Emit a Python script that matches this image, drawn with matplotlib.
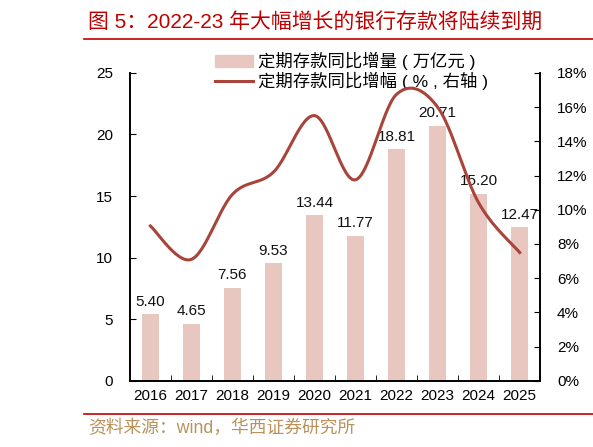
import numpy as np
import matplotlib.pyplot as plt
from matplotlib.lines import Line2D

plt.rcParams['font.family'] = ['Liberation Sans', 'Noto Sans CJK SC']

years = ["2016", "2017", "2018", "2019", "2020", "2021", "2022", "2023", "2024", "2025"]
increase = [5.40, 4.65, 7.56, 9.53, 13.44, 11.77, 18.81, 20.71, 15.20, 12.47]
growth = [9.05, 7.1, 10.9, 12.2, 15.5, 11.75, 16.75, 16.0, 10.4, 7.5]

bar_color = "#E8C7C1"
line_color = "#A8443A"


def smooth(xs, ys, n=30):
    """catmull-rom curve through the points, like excel smoothing"""
    px = [xs[0]] + list(xs) + [xs[-1]]
    py = [ys[0]] + list(ys) + [ys[-1]]
    out_x, out_y = [], []
    for i in range(1, len(px) - 2):
        t = np.linspace(0, 1, n)
        for p, out in ((px, out_x), (py, out_y)):
            p0, p1, p2, p3 = p[i - 1], p[i], p[i + 1], p[i + 2]
            v = 0.5 * ((2 * p1) + (-p0 + p2) * t + (2 * p0 - 5 * p1 + 4 * p2 - p3) * t ** 2
                       + (-p0 + 3 * p1 - 3 * p2 + p3) * t ** 3)
            out.extend(v)
    return out_x, out_y


fig = plt.figure(figsize=(5.93, 4.47), dpi=100)
ax = fig.add_axes([0.219, 0.148, 0.692, 0.689])
ax2 = ax.twinx()

x = np.arange(len(years))
bars = ax.bar(x, increase, width=0.4, color=bar_color, zorder=2)
for xi, v in zip(x, increase):
    ax.annotate(f"{v:.2f}", (xi, v), xytext=(0, 4), textcoords="offset points",
                ha="center", va="bottom", fontsize=11, color="#111111")

sx, sy = smooth(x, growth)
ax2.plot(sx, sy, color=line_color, lw=2.2, zorder=3)

ax.set_xlim(-0.5, 9.5)
ax.set_ylim(0, 25)
ax2.set_ylim(0, 18)
ax.set_yticks(range(0, 26, 5))
ax2.set_yticks(range(0, 19, 2))
ax2.set_yticklabels([f"{v}%" for v in range(0, 19, 2)])
ax.set_xticks(x)
ax.set_xticklabels(years)
ax.set_xticks(np.arange(-0.5, 10, 1), minor=True)
ax.tick_params(axis="x", which="major", length=0, labelsize=11, pad=6)
ax.tick_params(axis="x", which="minor", direction="in", length=4)
ax.tick_params(axis="y", direction="in", length=4, labelsize=11, pad=12)
ax2.tick_params(axis="y", direction="in", length=4, labelsize=11, pad=12)

for a in (ax, ax2):
    a.spines["top"].set_visible(False)
    for s in ("left", "right", "bottom"):
        a.spines[s].set_linewidth(1.2)

handles = [plt.Rectangle((0, 0), 1, 1, color=bar_color),
           Line2D([0], [0], color=line_color, lw=2.2)]
labels = ["定期存款同比增量 ( 万亿元 )", "定期存款同比增幅 ( % , 右轴 )"]
ax.legend(handles, labels, loc="upper center", bbox_to_anchor=(0.54, 1.09),
          frameon=False, fontsize=12.5, handlelength=2.2, handletextpad=0.25,
          labelspacing=0.1, borderaxespad=0)

fig.text(0.148, 0.951, "图 5：2022-23 年大幅增长的银行存款将陆续到期", color="#C00000",
         fontsize=15, va="center", ha="left")
fig.add_artist(Line2D([0.142, 1.0], [0.913, 0.913], color="#C00000", lw=1.2))
fig.add_artist(Line2D([0.142, 1.0], [0.074, 0.074], color="#C00000", lw=1.2))
fig.text(0.148, 0.043, "资料来源：wind，华西证券研究所", color="#B8925A",
         fontsize=12.8, va="center", ha="left")

fig.savefig("out.png", dpi=100)
